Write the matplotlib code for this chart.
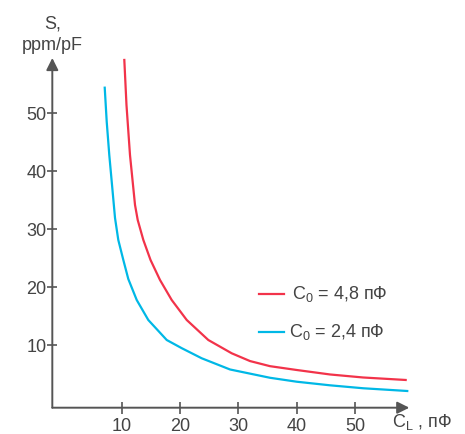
import matplotlib
matplotlib.use("Agg")
import matplotlib.pyplot as plt
from matplotlib import font_manager

# values
cl_red = [10.48, 10.85, 11.45, 12.31, 12.77, 13.73, 14.96, 16.58, 18.58, 21.15,
          24.84, 28.84, 31.97, 35.38, 39.95, 45.64, 51.28, 58.58]
s_red = [59.19, 51.43, 42.81, 34.19, 31.60, 28.16, 24.71, 21.26, 17.81, 14.36,
         10.91, 8.62, 7.28, 6.40, 5.74, 4.97, 4.45, 4.02]
cl_blue = [7.13, 7.47, 7.91, 8.43, 8.89, 9.45, 10.31, 11.16, 12.60, 14.58,
           17.73, 20.30, 23.71, 28.55, 35.38, 39.95, 45.64, 51.33, 58.85]
s_blue = [54.41, 48.55, 42.81, 37.07, 31.95, 28.16, 24.71, 21.43, 17.81, 14.36,
          10.91, 9.50, 7.76, 5.83, 4.40, 3.72, 3.10, 2.59, 2.12]
xticks = [10, 20, 30, 40, 50]
yticks = [10, 20, 30, 40, 50]
labels = ["C$_0$ = 4,8 пФ", "C$_0$ = 2,4 пФ"]

names = {f.name for f in font_manager.fontManager.ttflist}
FONT = "Liberation Sans Narrow" if "Liberation Sans Narrow" in names else "Liberation Sans"
plt.rcParams["font.family"] = [FONT, "DejaVu Sans"]
plt.rcParams["mathtext.fontset"] = "custom"
plt.rcParams["mathtext.rm"] = FONT
plt.rcParams["mathtext.it"] = FONT
plt.rcParams["mathtext.default"] = "regular"

RED = "#f2334a"
BLUE = "#00b8e6"
AX = "#555555"
TXT = "#444444"
FS = 13

fig = plt.figure(figsize=(4.65, 4.34), dpi=100)
ax = fig.add_axes([0.1125, 0.0606, 0.7677, 0.8058])
ax.set_xlim(-1.83, 59.2)
ax.set_ylim(-0.76, 59.53)

ax.plot(cl_red, s_red, color=RED, lw=1.6, solid_joinstyle="round")
ax.plot(cl_blue, s_blue, color=BLUE, lw=1.6, solid_joinstyle="round")

for s in ax.spines.values():
    s.set_visible(False)
arrow = dict(arrowstyle="-|>,head_length=0.6,head_width=0.3", color=AX, lw=1.4,
             mutation_scale=12, shrinkA=0, shrinkB=0)
ax.annotate("", xy=(1, 0), xytext=(0, 0), xycoords="axes fraction", arrowprops=arrow)
ax.annotate("", xy=(0, 1), xytext=(0, 0), xycoords="axes fraction", arrowprops=arrow)

ax.set_xticks(xticks)
ax.set_yticks(yticks)
ax.tick_params(axis="both", direction="inout", color=AX, width=1.2, labelsize=FS,
               labelcolor=TXT)
ax.tick_params(axis="x", length=8.4, pad=3)
ax.tick_params(axis="y", length=7.2, pad=0.5)

ax.text(0, 1.012, "S,\nppm/pF", transform=ax.transAxes, ha="center", va="bottom",
        fontsize=FS, color=TXT, linespacing=1.35)
fig.text(0.972, 0.005, "C$_L$ , пФ", ha="right", va="bottom", fontsize=FS, color=TXT)

# legend drawn by hand
for i, (lab, col) in enumerate(zip(labels, [RED, BLUE])):
    yy = 0.324 - i * 0.1065
    ax.plot([0.578, 0.648], [yy, yy], color=col, lw=1.6, transform=ax.transAxes)
    ax.text(0.672 - i * 0.008, yy, lab, transform=ax.transAxes, ha="left", va="center",
            fontsize=FS, color=TXT)

fig.savefig("out.png", dpi=100)
